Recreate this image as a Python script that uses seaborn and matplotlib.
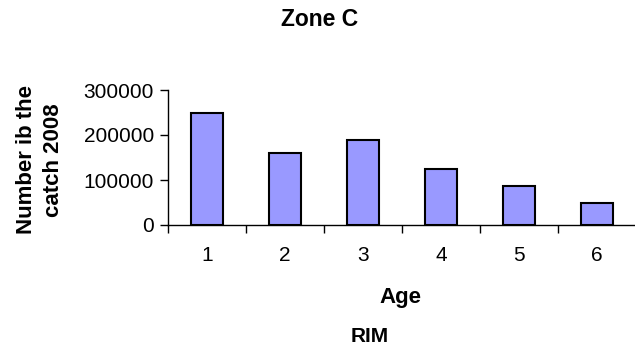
import matplotlib
matplotlib.use("Agg")
import matplotlib.pyplot as plt
import seaborn as sns
import pandas as pd
import numpy as np

ages = ["1", "2", "3", "4", "5", "6"]
catch_numbers = [248000, 159000, 190000, 124000, 87000, 48000]
y_ticks = [0, 100000, 200000, 300000]

sns.set_theme(style="white")
plt.rcParams["font.family"] = ["Liberation Sans", "DejaVu Sans"]
plt.rcParams["text.color"] = "black"
plt.rcParams["xtick.color"] = "black"
plt.rcParams["ytick.color"] = "black"

df = pd.DataFrame({"Age": ages, "Number": catch_numbers})

fig = plt.figure(figsize=(6.35, 3.49), dpi=100)
ax = fig.add_axes([168 / 635, 1 - 225 / 349, 468 / 635, 135 / 349])

sns.barplot(data=df, x="Age", y="Number", ax=ax, color="#9999FF",
            saturation=1, width=0.41, edgecolor="black", linewidth=1.5)

ax.set_xlim(-0.5, len(ages) - 0.5)
ax.set_ylim(0, 300000)
ax.set_yticks(y_ticks)
ax.set_yticklabels([str(v) for v in y_ticks], fontsize=15)

# category labels centred, tick marks at category boundaries
ax.set_xticks(range(len(ages)))
ax.set_xticklabels(ages, fontsize=15)
ax.set_xticks(np.arange(-0.5, len(ages), 1.0), minor=True)
ax.tick_params(axis="x", which="major", length=0, pad=15)
ax.tick_params(axis="x", which="minor", length=6, width=1, color="black",
               direction="out", bottom=True)
ax.tick_params(axis="y", length=6, width=1, color="black", direction="out",
               left=True, pad=4)

for side in ["top", "right"]:
    ax.spines[side].set_visible(False)
for side in ["left", "bottom"]:
    ax.spines[side].set_color("black")
    ax.spines[side].set_linewidth(1)

ax.set_xlabel("")
ax.set_ylabel("")

fig.text(320 / 635, 1 - 19 / 349, "Zone C", ha="center", va="center",
         fontsize=16.5, fontweight="bold")
fig.text(40 / 635, 1 - 160 / 349, "Number ib the\ncatch 2008", ha="center",
         va="center", rotation=90, fontsize=16, fontweight="bold",
         linespacing=1.4)
fig.text(400 / 635, 1 - 298 / 349, "Age", ha="center", va="center",
         fontsize=16, fontweight="bold")
fig.text(370 / 635, 1 - 337 / 349, "RIM", ha="center", va="center",
         fontsize=15, fontweight="bold")

fig.savefig("out.png", dpi=100)
